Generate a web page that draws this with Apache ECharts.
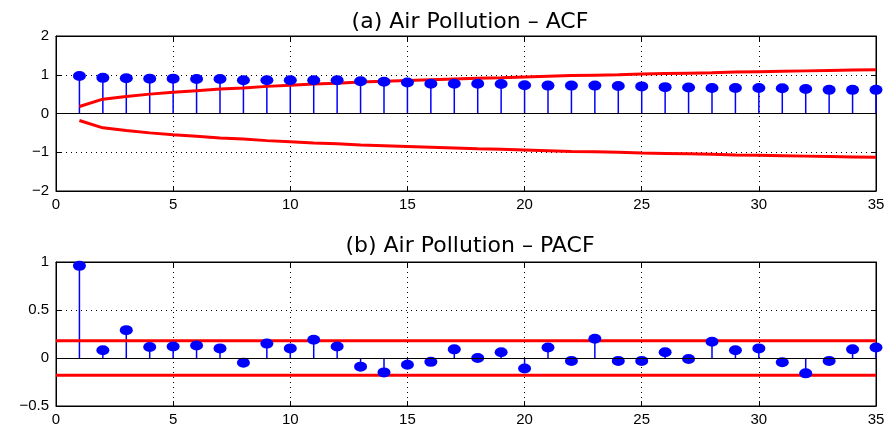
<!DOCTYPE html>
<html>
<head>
<meta charset="utf-8">
<script src="https://cdn.jsdelivr.net/npm/echarts@6/dist/echarts.min.js"></script>
<style>
  html, body { margin: 0; padding: 0; background: #fff; }
  #chart { width: 889px; height: 429px; }
</style>
</head>
<body>
<div id="chart"></div>
<script>
// lags 1..35
const lags = Array.from({ length: 35 }, (_, i) => i + 1);

// ACF values
const acfValues = [0.97, 0.92, 0.91, 0.90, 0.90, 0.89, 0.89, 0.86, 0.86, 0.86,
  0.86, 0.86, 0.83, 0.82, 0.80, 0.77, 0.77, 0.77, 0.76, 0.73,
  0.72, 0.72, 0.72, 0.71, 0.70, 0.68, 0.67, 0.66, 0.66, 0.66,
  0.65, 0.63, 0.61, 0.61, 0.61];

// upper confidence bound of the ACF (lower one is the mirror)
const acfBound = [0.18, 0.37, 0.44, 0.50, 0.55, 0.59, 0.63, 0.66, 0.70, 0.73,
  0.76, 0.78, 0.81, 0.83, 0.85, 0.87, 0.89, 0.91, 0.92, 0.94,
  0.96, 0.98, 0.99, 1.00, 1.02, 1.03, 1.04, 1.05, 1.07, 1.08,
  1.09, 1.10, 1.11, 1.12, 1.13];

// PACF values
const pacfValues = [0.96, 0.08, 0.29, 0.115, 0.12, 0.13, 0.10, -0.05, 0.15, 0.10,
  0.19, 0.12, -0.09, -0.15, -0.07, -0.04, 0.09, 0.00, 0.06, -0.11,
  0.11, -0.03, 0.20, -0.03, -0.03, 0.06, -0.01, 0.17, 0.08, 0.10,
  -0.045, -0.16, -0.03, 0.09, 0.11];
const pacfBound = 0.18;

const titles = ['(a) Air Pollution \u2013 ACF', '(b) Air Pollution \u2013 PACF'];
const xTicks = { min: 0, max: 35, interval: 5 };
const acfTicks = { min: -2, max: 2, interval: 1 };
const pacfTicks = { min: -0.5, max: 1, interval: 0.5 };

const font = 'Liberation Sans';
const minus = v => String(v).replace('-', '\u2212');

const chart = echarts.init(document.getElementById('chart'));

const dotted = { color: '#000', type: [1, 4], width: 1 };

const xAxisBase = (gridIndex, top) => ({
  type: 'value',
  gridIndex,
  position: top ? 'top' : 'bottom',
  min: xTicks.min,
  max: xTicks.max,
  interval: xTicks.interval,
  axisLine: { onZero: false, lineStyle: { color: '#000', width: 1 } },
  axisTick: { inside: true, length: 5, lineStyle: { color: '#000' } },
  axisLabel: { show: !top, color: '#000', fontFamily: font, fontSize: 15, margin: 6 },
  splitLine: { show: !top, lineStyle: dotted }
});

const yAxisBase = (gridIndex, t, right) => ({
  type: 'value',
  gridIndex,
  position: right ? 'right' : 'left',
  min: t.min,
  max: t.max,
  interval: t.interval,
  axisLine: { show: true, onZero: false, lineStyle: { color: '#000', width: 1 } },
  axisTick: { show: true, inside: true, length: 5, lineStyle: { color: '#000' } },
  axisLabel: { show: !right, color: '#000', fontFamily: font, fontSize: 15, margin: 7, formatter: minus },
  splitLine: { show: !right, lineStyle: dotted }
});

const zeroLine = {
  silent: true,
  symbol: 'none',
  label: { show: false },
  lineStyle: { color: '#000', type: 'solid', width: 1 },
  data: [{ yAxis: 0 }]
};

const stems = (idx, values) => ({
  type: 'bar',
  xAxisIndex: idx,
  yAxisIndex: idx,
  barWidth: 1.5,
  itemStyle: { color: '#0000ff' },
  data: lags.map((l, i) => [l, values[i]]),
  markLine: zeroLine,
  z: 2
});

const dots = (idx, values) => ({
  type: 'scatter',
  xAxisIndex: idx,
  yAxisIndex: idx,
  symbol: 'circle',
  symbolSize: [13, 10],
  itemStyle: { color: '#0000ff', opacity: 1 },
  data: lags.map((l, i) => [l, values[i]]),
  z: 4
});

const redLine = (idx, data) => ({
  type: 'line',
  xAxisIndex: idx,
  yAxisIndex: idx,
  showSymbol: false,
  symbol: 'none',
  lineStyle: { color: '#ff0000', width: 3 },
  data,
  z: 3
});

const titleStyle = { fontFamily: 'DejaVu Sans', fontSize: 22, fontWeight: 'normal', color: '#000' };

chart.setOption({
  animation: false,
  backgroundColor: '#fff',
  title: [
    { text: titles[0], left: 465, top: 6, textAlign: 'center', textStyle: titleStyle },
    { text: titles[1], left: 465, top: 230, textAlign: 'center', textStyle: titleStyle }
  ],
  grid: [
    { left: 56, right: 13, top: 36, height: 155, show: true, borderColor: '#000', borderWidth: 1 },
    { left: 56, right: 13, top: 262, height: 144, show: true, borderColor: '#000', borderWidth: 1 }
  ],
  xAxis: [xAxisBase(0, false), xAxisBase(1, false), xAxisBase(0, true), xAxisBase(1, true)],
  yAxis: [yAxisBase(0, acfTicks, false), yAxisBase(1, pacfTicks, false),
    yAxisBase(0, acfTicks, true), yAxisBase(1, pacfTicks, true)],
  series: [
    stems(0, acfValues),
    dots(0, acfValues),
    redLine(0, lags.map((l, i) => [l, acfBound[i]])),
    redLine(0, lags.map((l, i) => [l, -acfBound[i]])),
    stems(1, pacfValues),
    dots(1, pacfValues),
    redLine(1, [[xTicks.min, pacfBound], [xTicks.max, pacfBound]]),
    redLine(1, [[xTicks.min, -pacfBound], [xTicks.max, -pacfBound]])
  ]
});
</script>
</body>
</html>
